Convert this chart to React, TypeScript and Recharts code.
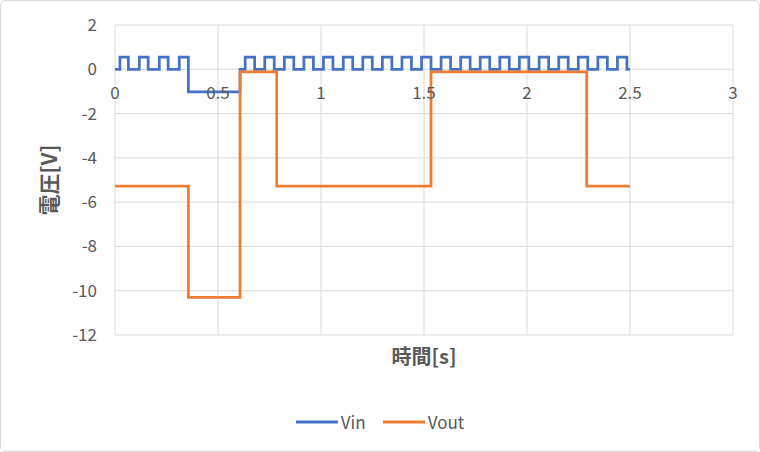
import React from "react";
import { LineChart, Line, XAxis, YAxis, CartesianGrid, Legend } from "recharts";

// ---- data ----
const xTicks = [0, 0.5, 1, 1.5, 2, 2.5, 3];
const yTicks = [2, 0, -2, -4, -6, -8, -10, -12];

// Vin: step breakpoints (s) and the level held after each breakpoint (V)
const vinTimes = [
  0, 0.024, 0.065, 0.118, 0.161, 0.215, 0.258, 0.312, 0.356, 0.607,
  0.632, 0.678, 0.727, 0.773, 0.822, 0.868, 0.917, 0.963, 1.012, 1.058,
  1.108, 1.154, 1.203, 1.249, 1.298, 1.344, 1.393, 1.439, 1.488, 1.534,
  1.583, 1.629, 1.678, 1.724, 1.773, 1.819, 1.868, 1.914, 1.963, 2.009,
  2.059, 2.105, 2.154, 2.2, 2.249, 2.295, 2.344, 2.39, 2.439, 2.485, 2.5,
];
const vinLevels = [
  0, 0.55, 0, 0.55, 0, 0.55, 0, 0.55, -1.02, 0,
  0.55, 0, 0.55, 0, 0.55, 0, 0.55, 0, 0.55, 0,
  0.55, 0, 0.55, 0, 0.55, 0, 0.55, 0, 0.55, 0,
  0.55, 0, 0.55, 0, 0.55, 0, 0.55, 0, 0.55, 0,
  0.55, 0, 0.55, 0, 0.55, 0, 0.55, 0, 0.55, 0,
];

// Vout: step breakpoints (s) and levels (V)
const voutTimes = [0, 0.356, 0.607, 0.785, 1.534, 2.29, 2.5];
const voutLevels = [-5.28, -10.3, -0.12, -5.28, -0.12, -5.28];

// ---- build step tables ----
function toSteps(times: number[], levels: number[]) {
  const pts: { t: number; v: number }[] = [];
  for (let i = 0; i < levels.length; i++) {
    pts.push({ t: times[i], v: levels[i] });
    pts.push({ t: times[i + 1], v: levels[i] });
  }
  return pts;
}
const vinData = toSteps(vinTimes, vinLevels);
const voutData = toSteps(voutTimes, voutLevels);

// ---- layout/style ----
const W = 760;
const H = 452;
const PLOT_TOP = 25;
const PLOT_BOTTOM = 335;
const Y_MIN = -12;
const Y_MAX = 2;
const ZERO_SHIFT = ((0 - Y_MIN) / (Y_MAX - Y_MIN)) * (PLOT_BOTTOM - PLOT_TOP);
const FONT = "'Noto Sans CJK JP', 'Noto Sans', sans-serif";
const TEXT = "#595959";
const BLUE = "#4472C4";
const ORANGE = "#ED7D31";

const XTick = (props: any) => {
  const { x, y, payload } = props;
  return (
    <text
      x={x}
      y={y - ZERO_SHIFT}
      dy="0.71em"
      textAnchor="middle"
      fill={TEXT}
      fontSize={17}
      fontFamily={FONT}
    >
      {String(payload.value)}
    </text>
  );
};

const YLabel = (props: any) => {
  const vb = props.viewBox || { x: 0, y: PLOT_TOP, width: 115, height: 310 };
  const cx = 48;
  const cy = vb.y + vb.height / 2;
  return (
    <text
      x={cx}
      y={cy}
      transform={`rotate(-90 ${cx} ${cy})`}
      textAnchor="middle"
      dominantBaseline="central"
      fill={TEXT}
      fontSize={21}
      fontWeight="bold"
      fontFamily={FONT}
    >
      電圧[V]
    </text>
  );
};

const XLabel = (props: any) => {
  const vb = props.viewBox || { x: 115, y: PLOT_BOTTOM, width: 618, height: 30 };
  const cx = vb.x + vb.width / 2;
  const cy = 355;
  return (
    <text
      x={cx}
      y={cy}
      textAnchor="middle"
      dominantBaseline="central"
      fill={TEXT}
      fontSize={20}
      fontWeight="bold"
      fontFamily={FONT}
    >
      時間[s]
    </text>
  );
};

const LegendContent = () => {
  const items = [
    { name: "Vin", color: BLUE },
    { name: "Vout", color: ORANGE },
  ];
  return (
    <div style={{ height: 0, overflow: "visible", position: "relative" }}>
      <div
        style={{
          position: "absolute",
          top: 0,
          left: 0,
          width: W,
          height: 24,
          display: "flex",
          justifyContent: "center",
          alignItems: "center",
          fontFamily: FONT,
          fontSize: 17,
          color: TEXT,
        }}
      >
        {items.map((it, i) => (
          <div
            key={it.name}
            style={{ display: "flex", alignItems: "center", marginLeft: i === 0 ? 0 : 17 }}
          >
            <svg width={42} height={4} style={{ display: "block" }}>
              <line x1={0} y1={2} x2={42} y2={2} stroke={it.color} strokeWidth={3} />
            </svg>
            <span style={{ marginLeft: 3, lineHeight: "24px" }}>{it.name}</span>
          </div>
        ))}
      </div>
    </div>
  );
};

export default function App() {
  return (
    <div
      style={{
        position: "absolute",
        left: 0,
        top: 0,
        width: W,
        height: H,
        border: "1px solid #d9d9d9",
        borderRadius: 6,
        boxSizing: "border-box",
        background: "#fff",
      }}
    >
      <div style={{ position: "absolute", left: -1, top: -1 }}>
        <LineChart
          width={W}
          height={H}
          margin={{ top: PLOT_TOP, right: 27, bottom: 452 - PLOT_BOTTOM - 30, left: 0 }}
          style={{ fontFamily: FONT }}
        >
          <CartesianGrid stroke="#d9d9d9" strokeWidth={1} />
          <XAxis
            dataKey="t"
            type="number"
            domain={[0, 3]}
            ticks={xTicks}
            interval={0}
            axisLine={false}
            tickLine={false}
            tickMargin={12}
            height={30}
            tick={<XTick />}
            allowDuplicatedCategory={true}
            label={<XLabel />}
          />
          <YAxis
            type="number"
            domain={[Y_MIN, Y_MAX]}
            ticks={yTicks}
            interval={0}
            axisLine={false}
            tickLine={false}
            tickMargin={12}
            width={115}
            tick={{ fill: TEXT, fontSize: 17, fontFamily: FONT }}
            label={<YLabel />}
          />
          <Line
            data={vinData}
            dataKey="v"
            name="Vin"
            type="linear"
            stroke={BLUE}
            strokeWidth={2.75}
            dot={false}
            activeDot={false}
            isAnimationActive={false}
          />
          <Line
            data={voutData}
            dataKey="v"
            name="Vout"
            type="linear"
            stroke={ORANGE}
            strokeWidth={2.75}
            dot={false}
            activeDot={false}
            isAnimationActive={false}
          />
          <Legend
            content={<LegendContent />}
            wrapperStyle={{ top: 410, left: 0, width: W, bottom: "auto", padding: 0, margin: 0 }}
          />
        </LineChart>
      </div>
    </div>
  );
}
